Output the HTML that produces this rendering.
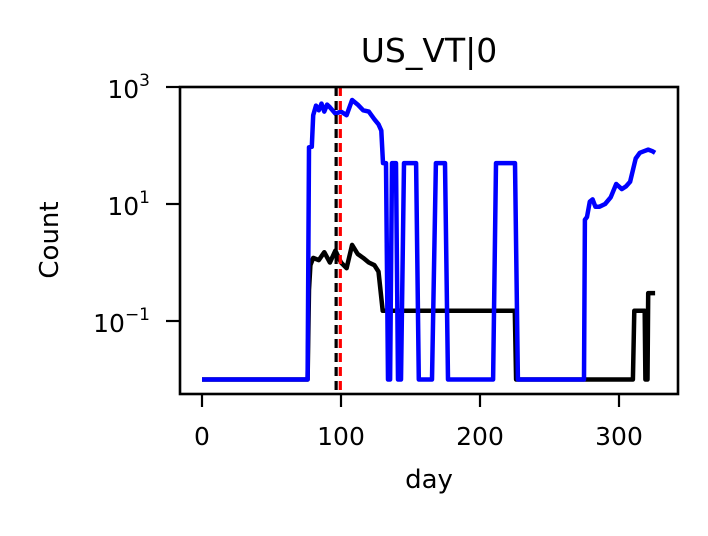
<!DOCTYPE html>
<html><head><meta charset="utf-8"><style>
body{margin:0;background:#fff;}
svg text{font-family:"DejaVu Sans","Liberation Sans",sans-serif;}
</style></head><body>
<svg id="chart" width="708" height="531" viewBox="0 0 708 531" xmlns="http://www.w3.org/2000/svg">
<rect width="708" height="531" fill="#fff"/>
<text x="429" y="62" font-size="33" text-anchor="middle">US_VT|0</text>
<g id="plot"></g>
<rect x="180" y="87" width="498" height="307" fill="none" stroke="#000" stroke-width="2.6"/>
<g id="xt"></g>
<g id="yt"></g>
<text x="429" y="488" font-size="26" text-anchor="middle">day</text>
<text transform="translate(58,240) rotate(-90)" font-size="26" text-anchor="middle">Count</text>
</svg>
<script>
const xTicks=[0,100,200,300];
const yTickExp=[-1,1,3];
const blackDays=[0,76,77,78,80,84,88,92,96,100,104,108,112,116,120,124,127,130,225,226,310,311,318.5,319,320.5,321,322,326];
const blackVals=[0.01,0.01,0.34,0.9,1.2,1.1,1.5,1.0,1.6,1.0,0.8,2.0,1.4,1.2,1.0,0.9,0.7,0.15,0.15,0.01,0.01,0.15,0.15,0.01,0.01,0.3,0.3,0.3];
const blueDays=[0,76,77,79,80,82,84,86,88,90,92,96,100,104,108,112,116,120,124,127,129,130.2,132.4,133.8,135.3,136.7,139.6,141,143.2,145.3,154,156,165.5,168.3,174.8,177,209.4,211.5,225.2,227.3,274.8,275.5,277,279,281,283,286,290,294,298,302,305,308,312,315,318,321,324,326];
const blueVals=[0.01,0.01,93,95,330,480,400,520,380,500,450,350,380,330,600,500,400,380,280,230,180,50,50,0.01,0.01,50,50,0.01,0.01,50,50,0.01,0.01,50,50,0.01,0.01,50,50,0.01,0.01,5.4,6,11,12,9,9,10,13,22,18,20,24,60,75,80,85,80,75];
const vlineBlack=96.5, vlineRed=99.5;
const X=d=>202+d*1.39;
const Y=v=>321-(Math.log10(v)+1)*58.5;
const NS="http://www.w3.org/2000/svg";
const plot=document.getElementById('plot');
function mk(t,a,p){const e=document.createElementNS(NS,t);for(const k in a)e.setAttribute(k,a[k]);p.appendChild(e);return e;}
function series(days,vals,color,name){
  const pts=days.map((d,i)=>X(d).toFixed(1)+','+Y(vals[i]).toFixed(1)).join(' ');
  const el=mk('polyline',{points:pts,fill:'none',stroke:color,'stroke-width':4.5,'stroke-linejoin':'round'},plot);
  
  
}
series(blackDays,blackVals,'#000','black-series');
series(blueDays,blueVals,'#0000ff','blue-series');
const r=mk('line',{x1:X(vlineRed),x2:X(vlineRed),y1:87,y2:394,stroke:'#f00','stroke-width':3.2,'stroke-dasharray':'9,5'},plot);


const b=mk('line',{x1:X(vlineBlack),x2:X(vlineBlack),y1:87,y2:394,stroke:'#000','stroke-width':3.2,'stroke-dasharray':'9,5'},plot);


const xt=document.getElementById('xt');
xTicks.forEach(t=>{
  const l=mk('line',{x1:X(t),x2:X(t),y1:394,y2:407,stroke:'#000','stroke-width':2.2},xt);
  
  
  const tx=mk('text',{x:X(t),y:445,'font-size':25,'text-anchor':'middle'},xt);
  tx.textContent=t;
  
  
});
const yt=document.getElementById('yt');
yTickExp.forEach(e=>{
  const y=321-(e+1)*58.5;
  const l=mk('line',{x1:166,x2:180,y1:y,y2:y,stroke:'#000','stroke-width':2.2},yt);
  
  
  const tx=mk('text',{x:150,y:y+11,'font-size':25,'text-anchor':'end'},yt);
  tx.innerHTML='10<tspan dy="-12" font-size="17">'+(e<0?'\u2212'+(-e):e)+'</tspan>';
  
  
});
</script>
</body></html>
